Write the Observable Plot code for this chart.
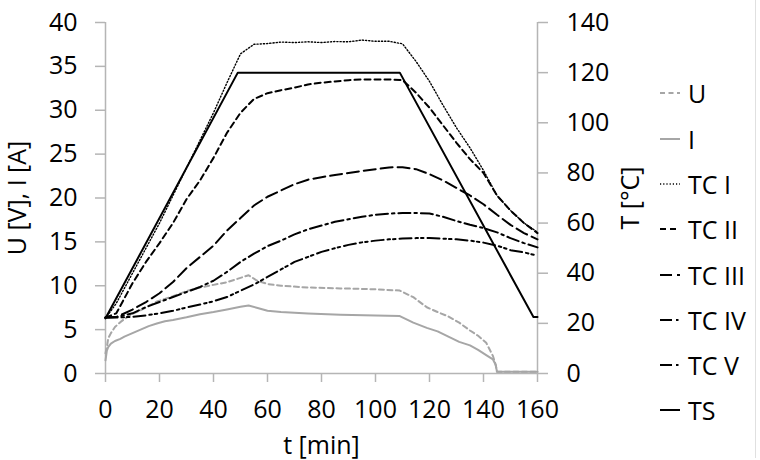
<!DOCTYPE html>
<html><head><meta charset="utf-8">
<script src="https://cdn.jsdelivr.net/npm/d3@7"></script>
<script src="https://cdn.jsdelivr.net/npm/@observablehq/plot@0.6"></script>
<style>
body{margin:0;background:#fff;}
#wrap{position:relative;width:760px;height:460px;font-family:"Open Sans",Lato,sans-serif;background:#fff;overflow:hidden;}
#legend{position:absolute;left:660px;top:0;width:100px;height:460px;}
.item{position:absolute;left:0;height:30px;display:flex;align-items:center;font-size:25px;color:#000;white-space:nowrap;}
.item svg{display:block;margin-right:8px;}
#edge{position:absolute;left:755px;top:0;width:1px;height:458px;background:#e0e0e0;}
</style></head><body><div id="wrap"></div>
<script>
// ---------- data ----------
const xTicks = [0, 20, 40, 60, 80, 100, 120, 140, 160];
const leftTicks = [0, 5, 10, 15, 20, 25, 30, 35, 40];
const rightTicks = [0, 20, 40, 60, 80, 100, 120, 140];

// electrical series (left axis)
const tElec = [0, 0.5, 1, 2, 3.5, 5.5, 7, 10, 13, 16, 19, 22, 25, 30, 35, 40, 45, 50, 53, 56, 60, 65, 75, 87, 100, 109, 114, 119, 123, 127, 131, 135, 138, 141, 143.5, 144.5, 145, 150, 160];
const U = [2.3, 3.0, 4.0, 4.6, 5.3, 5.85, 6.2, 6.8, 7.2, 7.7, 8.2, 8.5, 8.8, 9.4, 9.8, 10.1, 10.4, 10.9, 11.2, 10.6, 10.2, 10.0, 9.8, 9.7, 9.6, 9.45, 8.7, 7.55, 7.0, 6.5, 5.8, 4.9, 4.3, 3.5, 2.0, 1.0, 0.2, 0.2, 0.2];
const I = [1.5, 2.6, 3.0, 3.4, 3.7, 3.95, 4.2, 4.6, 5.0, 5.4, 5.7, 5.95, 6.1, 6.4, 6.75, 7.0, 7.3, 7.6, 7.75, 7.5, 7.15, 7.0, 6.85, 6.7, 6.6, 6.55, 5.8, 5.2, 4.8, 4.2, 3.6, 3.2, 2.7, 2.1, 1.6, 1.0, 0.2, 0.2, 0.2];

// thermocouples (right axis, °C)
const tTC = [0, 4, 10, 15, 20, 25, 30, 35, 40, 45, 50, 55, 60, 65, 70, 75, 80, 85, 90, 95, 100, 105, 110, 115, 120, 125, 130, 135, 140, 145, 150, 155, 160];
const TC1 = [22, 28, 40, 50, 60, 71, 82, 93, 104, 116, 127.5, 131.3, 131.6, 132.2, 132, 132.3, 132, 132.4, 132.3, 133, 132.5, 132.5, 131.5, 124.5, 116.5, 107, 98, 90, 81, 71, 65, 60, 56.4];
const TC2 = [22.3, 24, 36, 44.5, 52, 60, 69.5, 77, 86, 96, 104, 109.5, 111.8, 113, 114, 115.3, 116, 116.5, 117, 117.3, 117.3, 117.3, 117, 112, 106, 99, 92, 85.5, 80, 71, 65, 60, 56];
const TC3 = [22.3, 22.5, 25.5, 28.5, 32, 36.5, 42, 46.5, 51, 57, 62, 67, 70.5, 73, 75.5, 77.3, 78.3, 79.2, 80, 80.8, 81.5, 82.2, 82.3, 81.5, 79.5, 77, 74, 71, 67.5, 63.3, 59.3, 56, 53.5];
const TC4 = [22.3, 22.5, 24, 26.5, 28.5, 30.5, 32.5, 34.5, 37, 40.5, 44.5, 47.8, 50.8, 53, 55.5, 57.5, 59, 60.5, 61.5, 62.5, 63.3, 63.8, 64, 64, 63.8, 62.5, 60.8, 59.3, 58, 56.3, 54, 52, 50.3];
const TC5 = [22.3, 22.3, 22.6, 23.2, 24, 25, 26.3, 27.5, 28.8, 30.5, 33, 35.5, 38.5, 41.5, 44.5, 46.5, 48.5, 50, 51.3, 52.3, 53, 53.5, 53.8, 54, 54, 53.8, 53.5, 53, 52.2, 51, 49.2, 48.3, 47];
const tTS = [0, 49, 109, 158.5, 160];
const TS = [22, 120, 120, 22.5, 22.5];

const seriesNames = ["U", "I", "TC I", "TC II", "TC III", "TC IV", "TC V", "TS"];

// ---------- build ----------
const ratio = 140 / 40; // right axis units per left axis unit
const gray = "#a6a6a6";
const styles = {
  "U": {stroke: gray, dash: "5,3.5", w: 2},
  "I": {stroke: gray, dash: null, w: 2},
  "TC I": {stroke: "#000", dash: "1.2,2", w: 1.4},
  "TC II": {stroke: "#000", dash: "6,4", w: 2},
  "TC III": {stroke: "#000", dash: "12,5", w: 2},
  "TC IV": {stroke: "#000", dash: "12,4,2.5,4", w: 2},
  "TC V": {stroke: "#000", dash: "12,4,2.5,3,2.5,4", w: 2},
  "TS": {stroke: "#000", dash: null, w: 2}
};
const seriesData = {
  "U": tElec.map((t, i) => ({t, v: U[i]})),
  "I": tElec.map((t, i) => ({t, v: I[i]})),
  "TC I": tTC.map((t, i) => ({t, v: TC1[i] / ratio})),
  "TC II": tTC.map((t, i) => ({t, v: TC2[i] / ratio})),
  "TC III": tTC.map((t, i) => ({t, v: TC3[i] / ratio})),
  "TC IV": tTC.map((t, i) => ({t, v: TC4[i] / ratio})),
  "TC V": tTC.map((t, i) => ({t, v: TC5[i] / ratio})),
  "TS": tTS.map((t, i) => ({t, v: TS[i] / ratio}))
};

const axisColor = "#b5b5b5";
const lineMarks = seriesNames.map(n => Plot.line(seriesData[n], {
  x: "t", y: "v", stroke: styles[n].stroke, strokeWidth: styles[n].w,
  strokeDasharray: styles[n].dash || undefined, strokeLinejoin: "round"
}));

const chart = Plot.plot({
  width: 760, height: 460,
  marginLeft: 105, marginRight: 223, marginTop: 22, marginBottom: 87,
  style: {fontFamily: "'Open Sans', Lato, sans-serif", fontSize: "25px", color: "#000", background: "transparent", overflow: "visible"},
  x: {domain: [0, 160]},
  y: {domain: [0, 40]},
  marks: [
    Plot.axisX(xTicks, {tickSize: 9, tickPadding: 18, stroke: axisColor, strokeWidth: 1.5, fill: "#000",
      label: "t [min]", labelAnchor: "center", labelArrow: "none", labelOffset: 80}),
    Plot.axisY(leftTicks, {anchor: "left", tickSize: 10, tickPadding: 18, stroke: axisColor, strokeWidth: 1.5, fill: "#000",
      label: "U [V], I [A]", labelAnchor: "center", labelArrow: "none", labelOffset: 97}),
    Plot.axisY(rightTicks.map(d => d / ratio), {anchor: "right", tickSize: 10, tickPadding: 19, stroke: axisColor, strokeWidth: 1.5, fill: "#000",
      tickFormat: d => String(Math.round(d * ratio)),
      label: "T [°C]", labelAnchor: "center", labelArrow: "none", labelOffset: 101}),
    Plot.ruleX([0, 160], {stroke: axisColor, strokeWidth: 1.5}),
    Plot.ruleY([0], {stroke: axisColor, strokeWidth: 1.5}),
    ...lineMarks
  ]
});

const wrap = document.getElementById("wrap");
wrap.appendChild(chart);

// legend (HTML overlay at right)
const legend = document.createElement("div");
legend.id = "legend";
const legendY = [93, 139, 184, 229, 275, 320, 365, 410];
seriesNames.forEach((n, i) => {
  const s = styles[n];
  const item = document.createElement("div");
  item.className = "item";
  item.style.top = (legendY[i] - 15) + "px";
  const dash = s.dash ? `stroke-dasharray="${s.dash}"` : "";
  item.innerHTML = `<svg width="20" height="10"><line x1="0" y1="5" x2="20" y2="5" stroke="${s.stroke}" stroke-width="${s.w}" ${dash}/></svg><span>${n}</span>`;
  legend.appendChild(item);
});
wrap.appendChild(legend);
const edge = document.createElement("div");
edge.id = "edge";
wrap.appendChild(edge);
</script>
</body></html>
